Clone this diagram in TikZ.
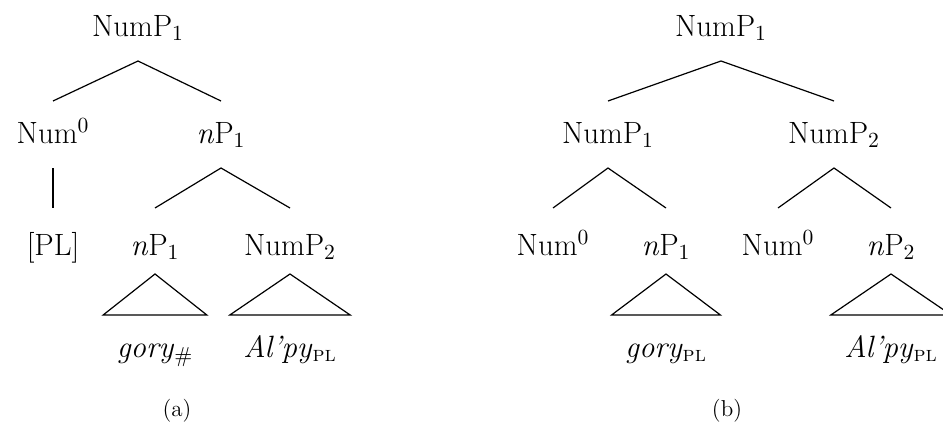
\documentclass[tikz,border=0pt]{standalone}
\usepackage{fontspec}
\usetikzlibrary{calc}

\tikzset{
  lbl/.style={anchor=base, inner sep=0pt, font=\fontsize{15.4}{18}\selectfont},
  leaf/.style={lbl, inner xsep=6.5pt},
  capt/.style={anchor=base, inner sep=0pt, font=\fontsize{11.5}{13}\selectfont},
}
\newcommand{\sub}[1]{\textsubscript{#1}}
\newcommand{\npl}{\textsubscript{\textsc{pl}}}

\begin{document}
\begin{tikzpicture}[x=0.5pt,y=-0.5pt,line width=0.6pt]
\useasboundingbox (0,0) rectangle (943,423);
% (a)
\node[lbl] (topA) at (138,36) {NumP\sub{1}};
\node[lbl] (numA) at (53,143) {Num\textsuperscript{0}};
\node[lbl] (npA) at (221,143) {\textit{n}P\sub{1}};
\node[lbl] (plA) at (53,255) {[PL]};
\node[lbl] (npAa) at (155,255) {\textit{n}P\sub{1}};
\node[lbl] (numpA) at (290,255) {NumP\sub{2}};
\node[leaf] (goryA) at (155,357) {\textit{gory}\sub{\#}};
\node[leaf] (alpyA) at (290,357) {\textit{Al'py}\npl};
\node[capt] (capA) at (177,416) {(a)};
\draw ($(numA.base)+(0,-42)$) -- ($(topA.base)+(0,25)$) -- ($(npA.base)+(0,-42)$);
\draw ($(numA.base)+(0,25)$) -- ($(plA.base)+(0,-47)$);
\draw ($(npAa.base)+(0,-47)$) -- ($(npA.base)+(0,25)$) -- ($(numpA.base)+(0,-47)$);
\draw ($(npAa.base)+(0,19)$) -- ($(goryA.base west)+(0,-42)$) -- ($(goryA.base east)+(0,-42)$) -- cycle;
\draw ($(numpA.base)+(0,19)$) -- ($(alpyA.base west)+(0,-42)$) -- ($(alpyA.base east)+(0,-42)$) -- cycle;
% (b)
\node[lbl] (topB) at (721,36) {NumP\sub{1}};
\node[lbl] (numpB1) at (608,143) {NumP\sub{1}};
\node[lbl] (numpB2) at (834,143) {NumP\sub{2}};
\node[lbl] (numB1) at (553,255) {Num\textsuperscript{0}};
\node[lbl] (npB1) at (666,255) {\textit{n}P\sub{1}};
\node[lbl] (numB2) at (778,255) {Num\textsuperscript{0}};
\node[lbl] (npB2) at (891,255) {\textit{n}P\sub{2}};
\node[leaf] (goryB) at (666,357) {\textit{gory}\npl};
\node[leaf] (alpyB) at (891,357) {\textit{Al'py}\npl};
\node[capt] (capB) at (727,416) {(b)};
\draw ($(numpB1.base)+(0,-42)$) -- ($(topB.base)+(0,25)$) -- ($(numpB2.base)+(0,-42)$);
\draw ($(numB1.base)+(0,-47)$) -- ($(numpB1.base)+(0,25)$) -- ($(npB1.base)+(0,-47)$);
\draw ($(numB2.base)+(0,-47)$) -- ($(numpB2.base)+(0,25)$) -- ($(npB2.base)+(0,-47)$);
\draw ($(npB1.base)+(0,19)$) -- ($(goryB.base west)+(0,-42)$) -- ($(goryB.base east)+(0,-42)$) -- cycle;
\draw ($(npB2.base)+(0,19)$) -- ($(alpyB.base west)+(0,-42)$) -- ($(alpyB.base east)+(0,-42)$) -- cycle;
\end{tikzpicture}
\end{document}
